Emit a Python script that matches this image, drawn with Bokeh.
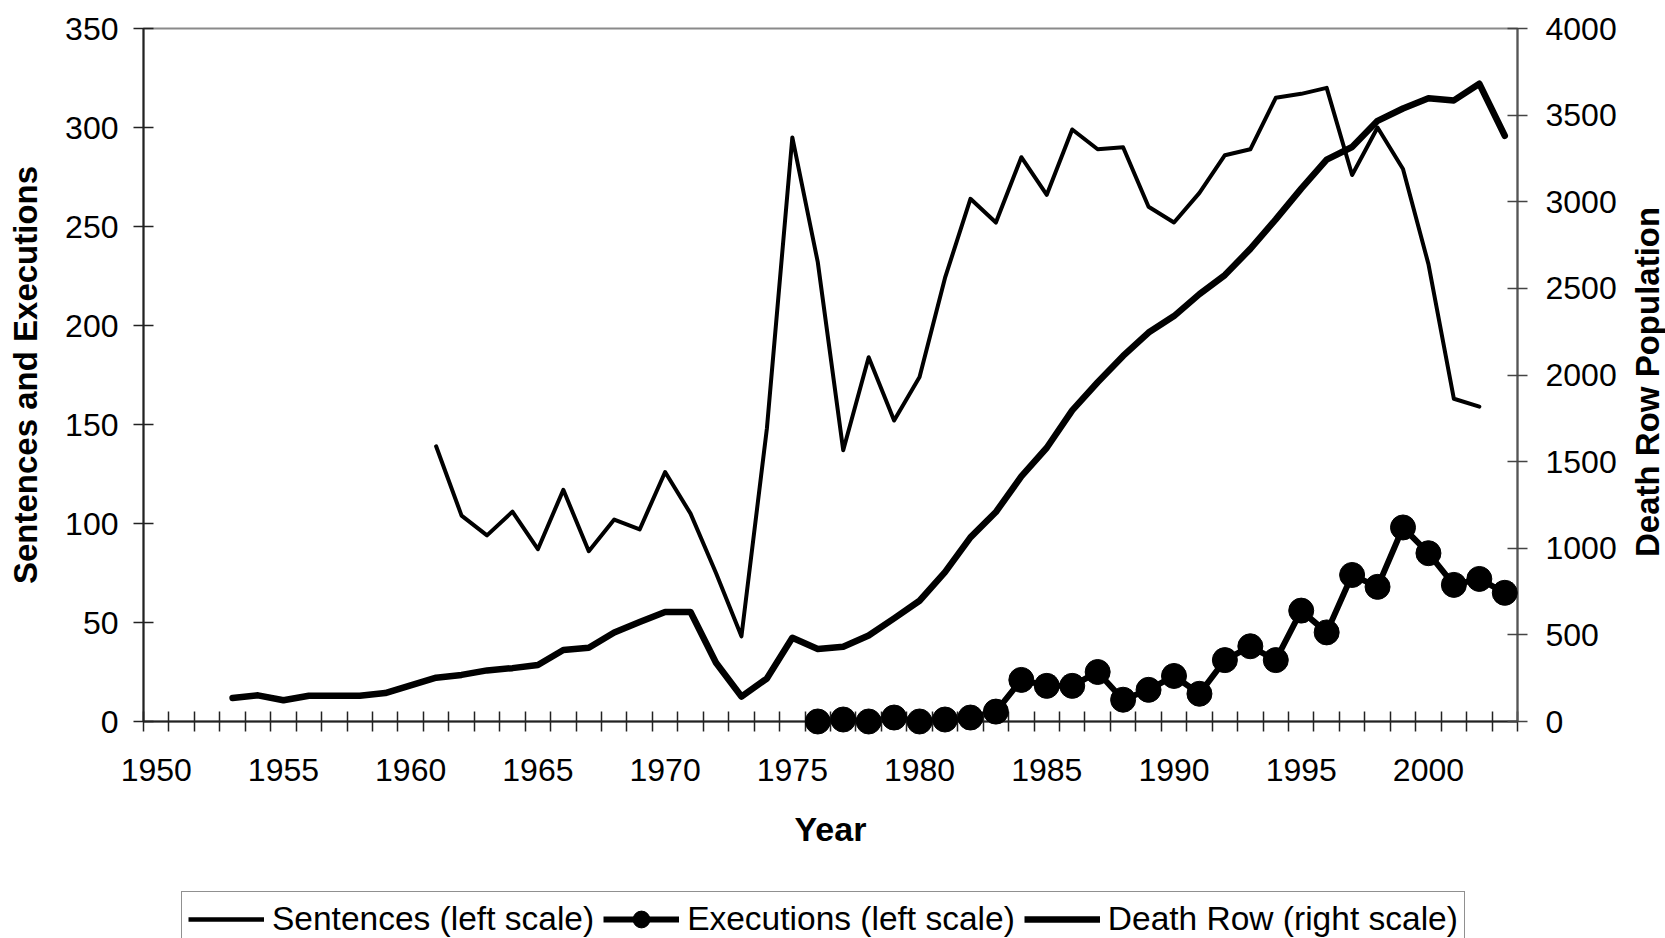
import math
from bokeh.plotting import figure
from bokeh.layouts import column, row
from bokeh.models import Range1d, LinearAxis, FixedTicker, Legend, LegendItem, Label
from bokeh.embed import file_html
from bokeh.resources import INLINE

# ---------------- data ----------------
sent_years = list(range(1961, 2003))
sentences = [139, 104, 94, 106, 87, 117, 86, 102, 97, 126,
             105, 75, 43, 148, 295, 232, 137, 184, 152, 174,
             224, 264, 252, 285, 266, 299, 289, 290, 260, 252,
             267, 286, 289, 315, 317, 320, 276, 300, 279, 231,
             163, 159]

exec_years = list(range(1976, 2004))
executions = [0, 1, 0, 2, 0, 1, 2, 5, 21, 18,
              18, 25, 11, 16, 23, 14, 31, 38, 31, 56,
              45, 74, 68, 98, 85, 69, 72, 65]

dr_years = list(range(1953, 2004))
death_row = [136, 151, 123, 149, 149, 149, 164, 209, 253, 269,
             295, 308, 326, 413, 426, 514, 574, 632, 632, 339,
             144, 248, 483, 418, 431, 496, 595, 697, 862, 1063,
             1209, 1415, 1580, 1796, 1958, 2110, 2245, 2340, 2467, 2577,
             2728, 2898, 3076, 3243, 3316, 3467, 3538, 3598, 3585, 3681,
             3381]

x_label_years = [1950, 1955, 1960, 1965, 1970, 1975, 1980, 1985, 1990, 1995, 2000]
x_labels = ["1950", "1955", "1960", "1965", "1970", "1975", "1980", "1985", "1990", "1995", "2000"]
left_ticks = [0, 50, 100, 150, 200, 250, 300, 350]
right_ticks = [0, 500, 1000, 1500, 2000, 2500, 3000, 3500, 4000]
first_year, last_year = 1950, 2003

legend_labels = ["Sentences (left scale)", "Executions (left scale)", "Death Row (right scale)"]
right_title = "Death Row Population"

FONT = "Liberation Sans"
FS = "32px"

# geometry (pixels)
PAGE_W, PAGE_H = 1665, 938
B_LEFT, B_TOP, B_BOTTOM = 143, 28, 132
FRAME_H = 693
TITLE_W = 36
MAIN_W = PAGE_W - TITLE_W
B_RIGHT = 112
MAIN_H = B_TOP + FRAME_H + B_BOTTOM
LEG_H = PAGE_H - MAIN_H

p = figure(width=MAIN_W, height=MAIN_H, output_backend="svg", toolbar_location=None,
           x_range=Range1d(first_year - 0.5, last_year + 0.5), y_range=Range1d(0, 350),
           min_border_left=B_LEFT, min_border_right=B_RIGHT, min_border_top=B_TOP,
           min_border_bottom=B_BOTTOM,
           background_fill_color="white", border_fill_color="white")
p.xgrid.visible = False
p.ygrid.visible = False
p.outline_line_color = "#8a8a8a"
p.outline_line_width = 2
p.extra_y_ranges = {"dr": Range1d(0, 4000)}

# x axis (category style: ticks between years, labels at year centres)
xa = p.xaxis[0]
xa.ticker = FixedTicker(ticks=x_label_years,
                        minor_ticks=[y - 0.5 for y in range(first_year, last_year + 2)])
xa.major_label_overrides = {y: s for y, s in zip(x_label_years, x_labels)}
xa.major_tick_in = 0
xa.major_tick_out = 0
xa.minor_tick_in = 10
xa.minor_tick_out = 10
xa.minor_tick_line_color = "#222222"
xa.minor_tick_line_width = 1.5
xa.axis_line_color = "#222222"
xa.axis_line_width = 2
xa.major_label_text_font = FONT
xa.major_label_text_font_size = FS
xa.major_label_text_color = "black"
xa.major_label_standoff = 27
xa.axis_label = "Year"
xa.axis_label_text_font = FONT
xa.axis_label_text_font_style = "bold"
xa.axis_label_text_font_size = "34px"
xa.axis_label_text_color = "black"
xa.axis_label_standoff = 26

# left axis
ya = p.yaxis[0]
ya.ticker = FixedTicker(ticks=left_ticks)
ya.major_tick_in = 10
ya.major_tick_out = 10
ya.minor_tick_in = 0
ya.minor_tick_out = 0
ya.major_tick_line_color = "#222222"
ya.major_tick_line_width = 1.5
ya.axis_line_color = "#222222"
ya.axis_line_width = 2
ya.major_label_text_font = FONT
ya.major_label_text_font_size = FS
ya.major_label_text_color = "black"
ya.major_label_standoff = 15
ya.axis_label = "Sentences and Executions"
ya.axis_label_text_font = FONT
ya.axis_label_text_font_style = "bold"
ya.axis_label_text_font_size = "33px"
ya.axis_label_text_color = "black"
ya.axis_label_standoff = 18

# right axis
ra = LinearAxis(y_range_name="dr", ticker=FixedTicker(ticks=right_ticks))
ra.major_tick_in = 10
ra.major_tick_out = 10
ra.minor_tick_in = 0
ra.minor_tick_out = 0
ra.major_tick_line_color = "#444444"
ra.major_tick_line_width = 1.5
ra.axis_line_color = "#555555"
ra.axis_line_width = 2
ra.major_label_text_font = FONT
ra.major_label_text_font_size = FS
ra.major_label_text_color = "black"
ra.major_label_standoff = 18
p.add_layout(ra, "right")

# series
r_dr = p.line(dr_years, death_row, y_range_name="dr", line_width=6.5, color="black",
              line_join="round", line_cap="round")
r_s = p.line(sent_years, sentences, line_width=4, color="black", line_join="round",
             line_cap="round")
r_el = p.line(exec_years, executions, line_width=6, color="black", line_join="round")
r_ep = p.scatter(exec_years, executions, size=25, color="black", level="overlay")

# right-hand title strip (reads bottom-to-top like the reference)
p3 = figure(width=TITLE_W, height=MAIN_H, output_backend="svg", toolbar_location=None,
            x_range=Range1d(0, 1), y_range=Range1d(0, 1),
            x_axis_location=None, y_axis_location=None,
            min_border_left=0, min_border_right=0, min_border_top=B_TOP,
            min_border_bottom=B_BOTTOM,
            background_fill_color="white", border_fill_color="white", outline_line_color=None)
p3.xgrid.visible = False
p3.ygrid.visible = False
p3.add_layout(Label(x=0.5, y=0.49, text=right_title, angle=math.pi / 2,
                    text_align="center", text_baseline="middle", text_font=FONT,
                    text_font_style="bold", text_font_size="33px", text_color="black"))

# legend strip (separate figure so the legend box can run off the page bottom)
p2 = figure(width=PAGE_W, height=LEG_H, output_backend="svg", toolbar_location=None,
            x_range=Range1d(0, 1), y_range=Range1d(0, 1),
            x_axis_location=None, y_axis_location=None,
            min_border_left=B_LEFT, min_border_right=0, min_border_top=0, min_border_bottom=0,
            background_fill_color="white", border_fill_color="white", outline_line_color=None)
p2.xgrid.visible = False
p2.ygrid.visible = False
# legend sample glyphs: same series, but outside this strip's visible range
g_s = p2.line(sent_years, sentences, line_width=4.5, color="black")
g_el = p2.line(exec_years, executions, line_width=6, color="black")
g_ep = p2.scatter(exec_years, executions, size=25, color="black")
g_dr = p2.line(dr_years, death_row, line_width=6.5, color="black")

legend = Legend(items=[LegendItem(label=legend_labels[0], renderers=[g_s]),
                       LegendItem(label=legend_labels[1], renderers=[g_el, g_ep]),
                       LegendItem(label=legend_labels[2], renderers=[g_dr])],
                orientation="horizontal", location="top_left",
                glyph_width=76, glyph_height=42, label_standoff=8, spacing=9,
                padding=6, margin=38, border_line_color="#222222", border_line_width=1.5,
                label_text_font=FONT, label_text_font_size="33.5px", label_text_color="black",
                background_fill_color="white", background_fill_alpha=1)
p2.add_layout(legend)

layout = column(row(p, p3, spacing=0), p2, spacing=0)
open("out.html", "w").write(file_html(layout, INLINE))
